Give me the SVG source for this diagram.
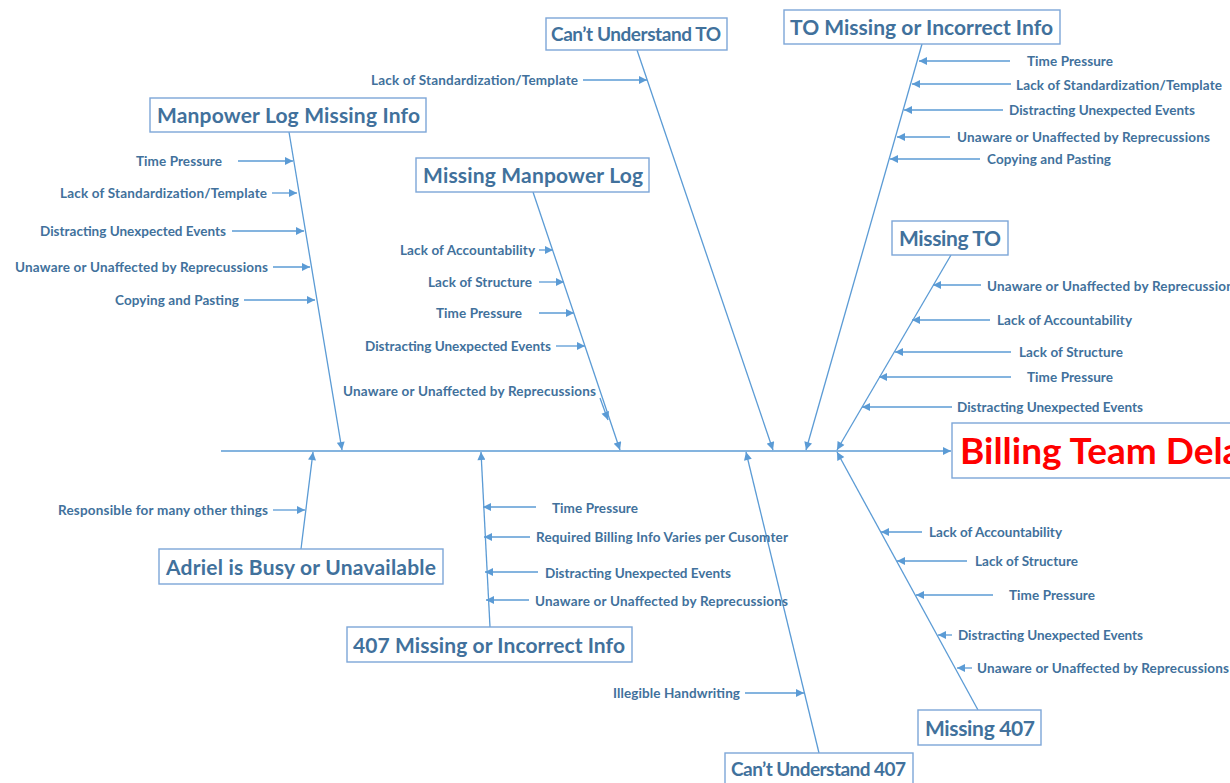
<svg xmlns="http://www.w3.org/2000/svg" width="1230" height="783" viewBox="0 0 1230 783">
<style>
.box{fill:#fff;stroke:#7DA6D8;stroke-width:1.4}
.title{font-family:Lato,"Open Sans","Liberation Sans",sans-serif;font-size:21px;font-weight:bold;fill:#41719C}
.lbl{font-family:Lato,"Open Sans","Liberation Sans",sans-serif;font-size:13.5px;font-weight:bold;fill:#41719C}
.ln{stroke:#5B9BD5;stroke-width:1.3;fill:none;marker-end:url(#ah)}
.e{text-anchor:end}
</style>
<defs>
<marker id="ah" viewBox="0 0 10 10" refX="10" refY="5" markerWidth="10" markerHeight="8" markerUnits="userSpaceOnUse" orient="auto">
<path d="M0,0 L10,5 L0,10 z" fill="#5B9BD5"/>
</marker>
</defs>
<rect width="1230" height="783" fill="#fff"/>
<g id="connectors">
<line class="ln" x1="221" y1="451" x2="951" y2="451"/>
<line class="ln" x1="289" y1="132" x2="342" y2="450"/>
<line class="ln" x1="637" y1="50" x2="773" y2="450"/>
<line class="ln" x1="922" y1="44" x2="806" y2="450"/>
<line class="ln" x1="533" y1="192" x2="620" y2="450"/>
<line class="ln" x1="951" y1="255" x2="837" y2="450"/>
<line class="ln" x1="978" y1="710" x2="837" y2="452"/>
<line class="ln" x1="819" y1="753" x2="746" y2="452"/>
<line class="ln" x1="490" y1="627" x2="481" y2="452"/>
<line class="ln" x1="301" y1="549" x2="313" y2="452"/>
<line class="ln" x1="238" y1="161" x2="293" y2="161"/>
<line class="ln" x1="272" y1="193" x2="297" y2="193"/>
<line class="ln" x1="232" y1="231" x2="304" y2="231"/>
<line class="ln" x1="273" y1="267" x2="310" y2="267"/>
<line class="ln" x1="244" y1="300" x2="315" y2="300"/>
<line class="ln" x1="583" y1="80" x2="647" y2="80"/>
<line class="ln" x1="1010" y1="61" x2="919" y2="61"/>
<line class="ln" x1="1011" y1="84" x2="912" y2="84"/>
<line class="ln" x1="1003" y1="110" x2="904" y2="110"/>
<line class="ln" x1="950" y1="137" x2="897" y2="137"/>
<line class="ln" x1="980" y1="159" x2="890" y2="159"/>
<line class="ln" x1="539" y1="250" x2="553" y2="250"/>
<line class="ln" x1="539" y1="282" x2="564" y2="282"/>
<line class="ln" x1="539" y1="313" x2="574" y2="313"/>
<line class="ln" x1="556" y1="346" x2="585" y2="346"/>
<line class="ln" x1="600" y1="398" x2="608" y2="420"/>
<line class="ln" x1="981" y1="285" x2="933" y2="285"/>
<line class="ln" x1="990" y1="320" x2="912" y2="320"/>
<line class="ln" x1="1011" y1="352" x2="895" y2="352"/>
<line class="ln" x1="1011" y1="377" x2="879" y2="377"/>
<line class="ln" x1="952" y1="407" x2="862" y2="407"/>
<line class="ln" x1="922" y1="532" x2="881" y2="532"/>
<line class="ln" x1="967" y1="561" x2="897" y2="561"/>
<line class="ln" x1="993" y1="595" x2="916" y2="595"/>
<line class="ln" x1="952" y1="635" x2="938" y2="635"/>
<line class="ln" x1="972" y1="668" x2="957" y2="668"/>
<line class="ln" x1="745" y1="693" x2="804" y2="693"/>
<line class="ln" x1="536" y1="507" x2="483" y2="507"/>
<line class="ln" x1="530" y1="537" x2="484" y2="537"/>
<line class="ln" x1="538" y1="572" x2="485" y2="572"/>
<line class="ln" x1="529" y1="600" x2="486" y2="600"/>
<line class="ln" x1="273" y1="510" x2="305" y2="510"/>
</g>
<g id="effect">
<rect class="box" x="952" y="423" width="300" height="55"/>
<text x="960" y="464" font-family="Lato,'Open Sans','Liberation Sans',sans-serif" font-size="37" font-weight="bold" fill="#FF0000">Billing Team Delay</text>
</g>
<g id="manpower-log-missing-info">
<rect class="box" x="150" y="98" width="276" height="34"/>
<text class="title" x="157" y="123" textLength="263">Manpower Log Missing Info</text>
<text class="lbl e" x="222" y="166" textLength="86">Time Pressure</text>
<text class="lbl e" x="267" y="198" textLength="207">Lack of Standardization/Template</text>
<text class="lbl e" x="226" y="236" textLength="186">Distracting Unexpected Events</text>
<text class="lbl e" x="268" y="272" textLength="253">Unaware or Unaffected by Reprecussions</text>
<text class="lbl e" x="239" y="305" textLength="124">Copying and Pasting</text>
</g>
<g id="cant-understand-to">
<rect class="box" x="546" y="18" width="181" height="32"/>
<text class="title" x="551" y="41" textLength="170" style="font-size:19px">Can’t Understand TO</text>
<text class="lbl e" x="578" y="85" textLength="207">Lack of Standardization/Template</text>
</g>
<g id="to-missing-or-incorrect-info">
<rect class="box" x="784" y="10" width="276" height="34"/>
<text class="title" x="790" y="35" textLength="263">TO Missing or Incorrect Info</text>
<text class="lbl" x="1027" y="66" textLength="86">Time Pressure</text>
<text class="lbl" x="1016" y="90" textLength="206">Lack of Standardization/Template</text>
<text class="lbl" x="1009" y="115" textLength="186">Distracting Unexpected Events</text>
<text class="lbl" x="957" y="142" textLength="253">Unaware or Unaffected by Reprecussions</text>
<text class="lbl" x="987" y="164" textLength="124">Copying and Pasting</text>
</g>
<g id="missing-manpower-log">
<rect class="box" x="416" y="158" width="233" height="34"/>
<text class="title" x="423" y="183" textLength="220">Missing Manpower Log</text>
<text class="lbl e" x="535" y="255" textLength="135">Lack of Accountability</text>
<text class="lbl e" x="532" y="287" textLength="104">Lack of Structure</text>
<text class="lbl e" x="522" y="318" textLength="86">Time Pressure</text>
<text class="lbl e" x="551" y="351" textLength="186">Distracting Unexpected Events</text>
<text class="lbl e" x="596" y="396" textLength="253">Unaware or Unaffected by Reprecussions</text>
</g>
<g id="missing-to">
<rect class="box" x="892" y="221" width="116" height="34"/>
<text class="title" x="899" y="246" textLength="102">Missing TO</text>
<text class="lbl" x="987" y="291" textLength="253">Unaware or Unaffected by Reprecussions</text>
<text class="lbl" x="997" y="325" textLength="135">Lack of Accountability</text>
<text class="lbl" x="1019" y="357" textLength="104">Lack of Structure</text>
<text class="lbl" x="1027" y="382" textLength="86">Time Pressure</text>
<text class="lbl" x="957" y="412" textLength="186">Distracting Unexpected Events</text>
</g>
<g id="adriel-busy">
<rect class="box" x="159" y="549" width="284" height="35"/>
<text class="title" x="166" y="575" textLength="270">Adriel is Busy or Unavailable</text>
<text class="lbl e" x="268" y="515" textLength="210">Responsible for many other things</text>
</g>
<g id="407-missing-or-incorrect-info">
<rect class="box" x="347" y="627" width="285" height="35"/>
<text class="title" x="353" y="653" textLength="272">407 Missing or Incorrect Info</text>
<text class="lbl" x="552" y="513" textLength="86">Time Pressure</text>
<text class="lbl" x="536" y="542" textLength="252">Required Billing Info Varies per Cusomter</text>
<text class="lbl" x="545" y="578" textLength="186">Distracting Unexpected Events</text>
<text class="lbl" x="535" y="606" textLength="253">Unaware or Unaffected by Reprecussions</text>
</g>
<g id="cant-understand-407">
<rect class="box" x="725" y="753" width="188" height="40"/>
<text class="title" x="731" y="776" textLength="175" style="font-size:19px">Can’t Understand 407</text>
<text class="lbl e" x="740" y="698" textLength="127">Illegible Handwriting</text>
</g>
<g id="missing-407">
<rect class="box" x="918" y="710" width="123" height="35"/>
<text class="title" x="925" y="736" textLength="110">Missing 407</text>
<text class="lbl" x="929" y="537" textLength="133">Lack of Accountability</text>
<text class="lbl" x="975" y="566" textLength="103">Lack of Structure</text>
<text class="lbl" x="1009" y="600" textLength="86">Time Pressure</text>
<text class="lbl" x="958" y="640" textLength="185">Distracting Unexpected Events</text>
<text class="lbl" x="977" y="673" textLength="252">Unaware or Unaffected by Reprecussions</text>
</g>
</svg>
